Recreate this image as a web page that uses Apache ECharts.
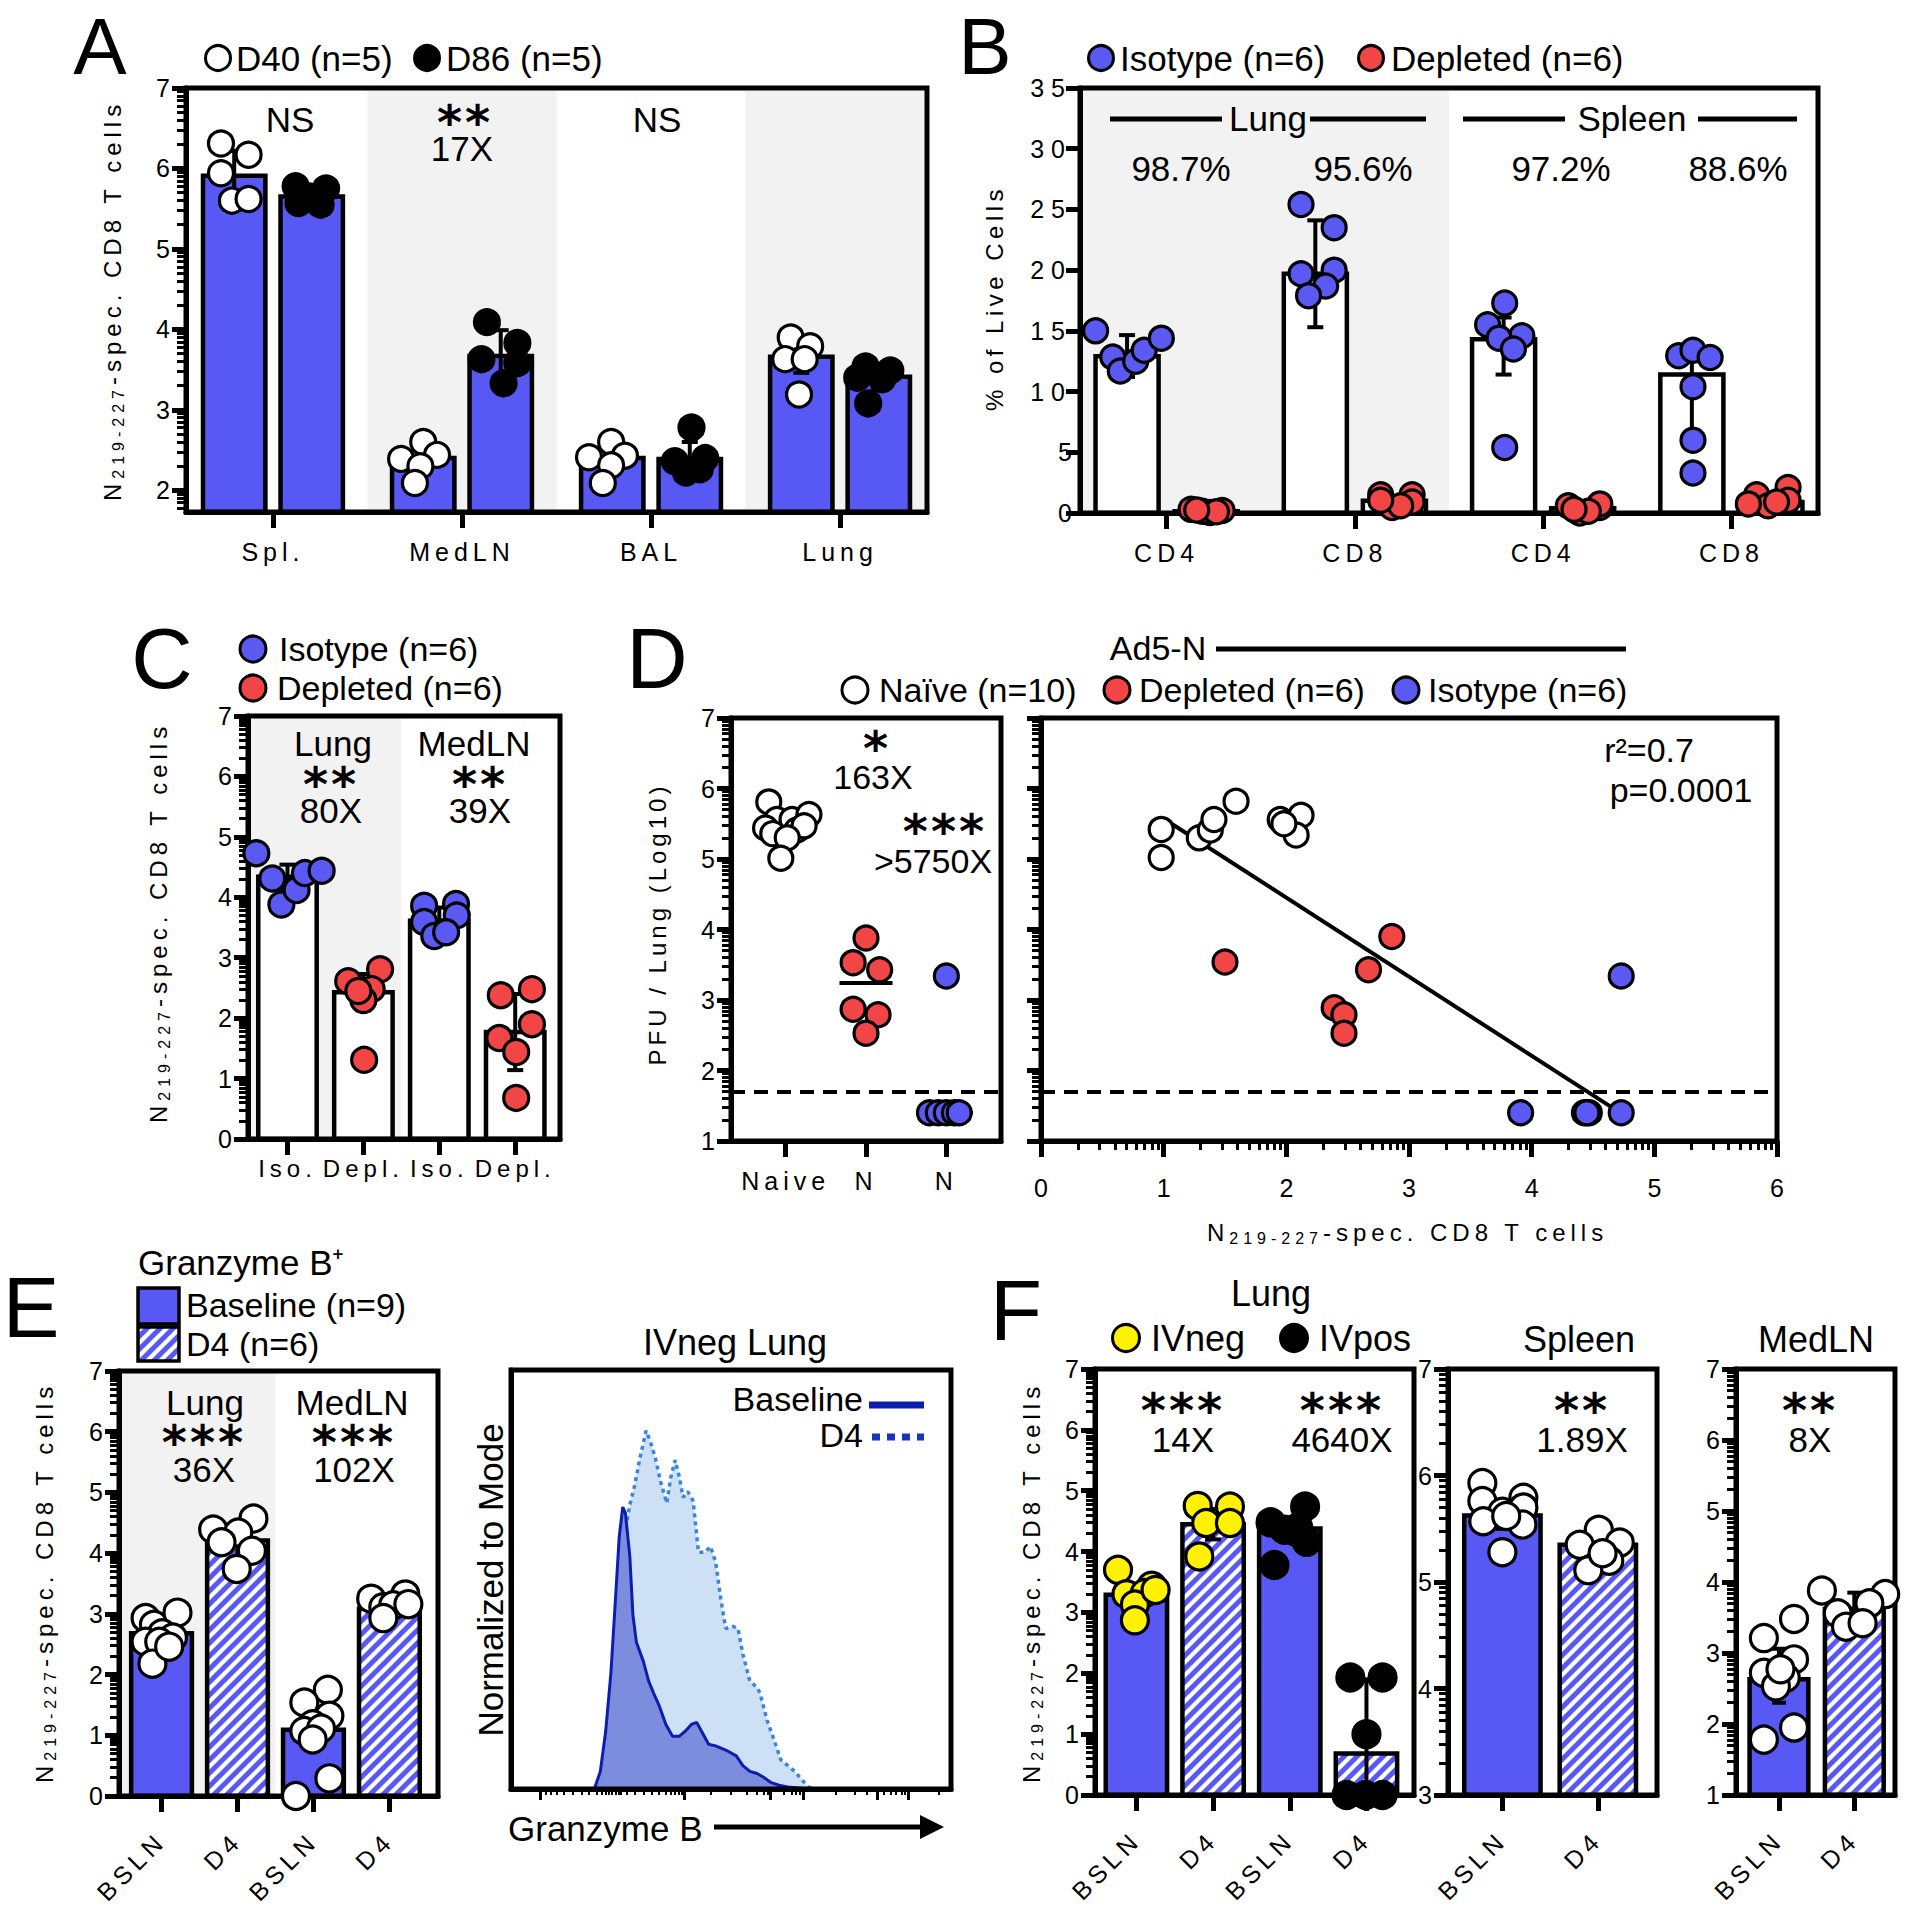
<!DOCTYPE html>
<html><head><meta charset="utf-8">
<script src="https://cdn.jsdelivr.net/npm/echarts@6/dist/echarts.min.js"></script>
<style>html,body{margin:0;padding:0;background:#fff}#c{width:1906px;height:1920px}</style>
</head><body><div id="c"></div>
<script>
// ================= DATA =================
// Panel A
const A_cats = ['Spl.', 'MedLN', 'BAL', 'Lung'];
const A_yTicks = [2, 3, 4, 5, 6, 7];
const A_d40_mean = [5.91, 2.40, 2.40, 3.66];
const A_d40_lo = [5.60, 2.28, 2.28, 3.46];
const A_d40_hi = [6.22, 2.52, 2.52, 3.86];
const A_d86_mean = [5.65, 3.67, 2.39, 3.41];
const A_d86_lo = [5.55, 3.35, 2.18, 3.26];
const A_d86_hi = [5.75, 3.99, 2.60, 3.56];
const A_d40_pts = [[6.31, 6.17, 5.94, 5.60, 5.62], [2.60, 2.39, 2.44, 2.30, 2.09], [2.60, 2.41, 2.43, 2.31, 2.09], [3.90, 3.79, 3.63, 3.63, 3.19]];
const A_d40_dx = [[-.07, .076, -.07, -.012, .076], [0, -.117, .073, -.015, -.044], [-.006, -.123, .067, -.006, -.05], [-.056, .047, -.085, .018, -.012]];
const A_d86_pts = [[5.78, 5.75, 5.65, 5.57, 5.55], [4.09, 3.83, 3.63, 3.58, 3.33], [2.78, 2.36, 2.40, 2.22, 2.26], [3.54, 3.49, 3.40, 3.38, 3.08]];
const A_d86_dx = [[-.085, .076, -.012, -.07, .047], [-.073, .088, -.102, .088, .015], [.009, -.079, .082, -.02, .053], [-.07, .061, -.114, .018, -.056]];

// Panel B
const B_cats = ['CD4', 'CD8', 'CD4', 'CD8'];
const B_yTicks = [0, 5, 10, 15, 20, 25, 30, 35];
const B_iso_mean = [12.9, 19.7, 14.3, 11.4];
const B_iso_lo = [11.2, 15.3, 11.4, 6.3];
const B_iso_hi = [14.65, 24.1, 16.1, 13.2];
const B_dep_mean = [0.15, 1.0, 0.4, 0.9];
const B_dep_lo = [0.05, 0.6, 0.1, 0.5];
const B_dep_hi = [0.25, 1.4, 0.7, 1.4];
const B_iso_pts = [[15.0, 12.85, 11.7, 12.5, 13.4, 14.4], [25.4, 23.5, 19.7, 20.0, 18.7, 17.9], [17.3, 15.5, 14.6, 14.4, 13.5, 5.4], [12.95, 13.4, 12.8, 10.4, 6.0, 3.3]];
const B_iso_dx = [[-.167, -.076, -.036, .046, .091, .182], [-.076, .1, -.076, .1, .055, -.036], [.006, -.085, .097, -.024, .052, .006], [-.07, .006, .097, .006, .006, .006]];
const B_dep_pts = [[0.3, 0.05, 0.2, 0.15, 0.1, 0.25], [1.5, 1.5, 0.45, 0.9, 0.6, 1.05], [0.6, 0.0, 0.45, 0.75, 0.15, 0.3], [1.5, 2.1, 0.6, 1.05, 0.75, 0.9]];
const B_dep_dx = [[-.08, .02, .085, -.02, .055, -.05], [-.073, .094, -.012, .094, .033, -.073], [-.076, -.015, .091, .091, .03, -.046], [-.076, .091, -.015, .091, -.12, .03]];

// Panel C
const C_cats = ['Iso.', 'Depl.', 'Iso.', 'Depl.'];
const C_yTicks = [0, 1, 2, 3, 4, 5, 6, 7];
const C_mean = [4.34, 2.43, 3.61, 1.77];
const C_lo = [4.14, 2.13, 3.39, 1.14];
const C_hi = [4.54, 2.73, 3.83, 2.40];
const C_pts = [[4.73, 4.31, 3.88, 4.12, 4.40, 4.44], [2.61, 2.81, 2.48, 2.30, 2.45, 1.31], [3.86, 3.89, 3.59, 3.70, 3.36, 3.42], [2.38, 2.48, 1.90, 1.67, 1.44, 0.68]];
const C_dx = [[-.41, -.2, -.08, .12, .23, .45], [-.2, .22, .11, 0, -.066, .01], [-.2, .22, -.2, .23, -.066, .09], [-.19, .22, .22, -.21, .013, .013]];

// Panel D (left: PFU per group)
const D_cats = ['Naive', 'N', 'N'];
const D_yTicks = [1, 2, 3, 4, 5, 6, 7];
const D_naive = [5.81, 5.56, 5.56, 5.63, 5.44, 5.36, 5.41, 5.47, 5.30, 5.01];
const D_naive_dx = [-.21, -.11, .08, .29, -.25, -.16, .14, .23, .02, -.06];
const D_dep = [3.88, 3.53, 3.43, 2.87, 2.79, 2.53];
const D_dep_dx = [0, -.16, .17, -.16, .15, 0];
const D_iso = [3.34, 1.40, 1.40, 1.40, 1.40, 1.40];
const D_iso_dx = [0, -.21, -.1, 0, .1, .16];
const D_center = [5.46, 3.24, 1.40];
const D_lod = 1.7;
// Panel D (right: correlation)
const Dr_xTicks = [0, 1, 2, 3, 4, 5, 6];
const Dr_naive_x = [0.98, 0.98, 1.29, 1.38, 1.41, 1.59, 1.95, 2.12, 2.08, 1.98];
const Dr_naive_y = [5.42, 5.02, 5.30, 5.41, 5.56, 5.82, 5.56, 5.62, 5.34, 5.50];
const Dr_dep_x = [1.50, 2.86, 2.67, 2.39, 2.47, 2.47];
const Dr_dep_y = [3.54, 3.90, 3.43, 2.89, 2.79, 2.53];
const Dr_iso_x = [4.73, 3.91, 4.43, 4.47, 4.73, 4.45];
const Dr_iso_y = [3.34, 1.40, 1.40, 1.40, 1.40, 1.40];
const Dr_fit = [[1.02, 5.55], [4.66, 1.47]];

// Panel E
const E_cats = ['BSLN', 'D4', 'BSLN', 'D4'];
const E_mean = [2.68, 4.21, 1.09, 3.09];
const E_lo = [2.43, 3.94, 0.79, 2.94];
const E_hi = [2.93, 4.48, 1.39, 3.24];
const E_pts = [[2.93, 2.82, 3.02, 2.68, 2.54, 2.61, 2.54, 2.18, 2.46], [4.39, 4.57, 4.34, 4.18, 4.04, 3.74], [1.75, 1.54, 1.32, 1.18, 1.07, 1.11, 0.93, 0.29, 0.0], [3.25, 3.32, 3.11, 3.14, 3.16, 2.93]];
const E_dx = [[-.21, -.1, .21, .01, -.21, .15, -.03, -.12, .1], [-.32, .21, .01, -.21, .19, -.01], [.19, -.12, .21, -.01, -.12, .1, -.01, .21, -.23], [-.24, .21, -.08, .05, .25, -.08]];
// Histogram (Granzyme B, normalized to mode)
const HX_base = [18.5, 19.1, 20.3, 21.5, 22.7, 23.8, 24.6, 25.4, 26.0, 27.0, 27.7, 28.5, 30.1, 31.3, 32.4, 33.6, 35.2, 36.7, 38.3, 39.8, 41.0, 42.2, 43.4, 44.9, 46.5, 48.8, 51.2, 52.7, 54.3, 55.9, 57.4, 59.0, 60.9, 62.9, 66.0, 68.0];
const HY_base = [0, 0.5, 4.2, 13.6, 27.6, 46.3, 60.3, 67.3, 65.9, 55.6, 41.6, 35.0, 30.4, 25.7, 22.9, 20.1, 15.4, 12.6, 12.6, 14.0, 15.4, 15.9, 13.6, 10.7, 10.3, 9.3, 7.9, 5.6, 4.2, 3.7, 2.8, 1.6, 0.9, 0.5, 0.2, 0];
const HX_d4 = [19.0, 19.5, 21.1, 22.7, 23.8, 24.6, 25.4, 26.2, 27.0, 28.1, 29.3, 30.7, 31.6, 32.8, 34.0, 35.4, 36.3, 37.3, 38.3, 39.1, 40.2, 41.4, 42.6, 44.1, 45.3, 46.5, 47.7, 48.8, 50.4, 51.6, 52.7, 54.3, 55.9, 56.6, 58.2, 59.8, 61.3, 62.9, 64.5, 66.0, 67.6, 69.0];
const HY_d4 = [0, 0.5, 6.1, 18.2, 32.2, 45.3, 56.5, 63.1, 67.8, 72.4, 79.0, 85.5, 83.2, 79.0, 73.4, 68.2, 74.3, 78.5, 74.3, 69.6, 71.0, 68.7, 56.5, 56.5, 57.9, 54.2, 45.3, 38.3, 38.8, 38.3, 32.2, 25.7, 24.3, 22.9, 16.4, 11.7, 7.0, 5.6, 4.2, 2.3, 0.5, 0];
const H_majorTicks = [6.6, 39.3, 59.0, 66.4, 83.2, 90.2];
const H_minorTicks = [7.8, 9.0, 10.4, 12.1, 14.1, 16.0, 17.6, 19.5, 20.7, 21.5, 22.3, 23.0, 23.8, 24.6, 25.0, 26.2, 28.1, 30.1, 32.0, 33.6, 35.2, 36.3, 37.3, 38.1, 38.7, 45.3, 50.0, 53.5, 55.9, 57.4, 58.4, 62.1, 63.7, 64.8, 65.7, 73.8, 78.1, 80.9, 84.8, 86.3, 87.5, 88.7, 89.5, 97.3];

// Panel F (Lung)
const F_cats = ['BSLN', 'D4', 'BSLN', 'D4'];
const F_mean = [3.29, 4.45, 4.38, 0.68];
const F_lo = [3.14, 4.20, 4.20, 0.0];
const F_hi = [3.44, 4.70, 4.56, 1.90];
const F_pts = [[3.70, 3.44, 3.30, 3.32, 3.13, 2.87, 3.37], [4.75, 4.74, 4.47, 4.47, 3.92], [4.48, 4.74, 4.33, 4.16, 3.78, 4.36, 4.40], [1.93, 1.93, 1.0, 0, 0, 0]];
const F_dx = [[-.24, .2, -.13, .11, -.02, -.02, .25], [-.2, .22, -.09, .22, -.18], [-.25, .2, .07, .22, -.2, -.07, .11], [-.21, .21, 0, -.26, -.01, .21]];
// Panel F (Spleen)
const FS_cats = ['BSLN', 'D4'];
const FS_yTicks = [3, 4, 5, 6, 7];
const FS_mean = [5.625, 5.35];
const FS_lo = [5.50, 5.27];
const FS_hi = [5.75, 5.43];
const FS_pts = [[5.93, 5.76, 5.79, 5.66, 5.70, 5.57, 5.54, 5.28, 5.62], [5.49, 5.35, 5.37, 5.20, 5.11, 5.27]];
const FS_dx = [[-.21, -.21, .22, 0, .22, -.2, .21, 0, .04], [.01, -.19, .23, .12, -.1, .05]];
// Panel F (MedLN)
const FM_cats = ['BSLN', 'D4'];
const FM_mean = [2.63, 3.62];
const FM_lo = [2.30, 3.39];
const FM_hi = [3.06, 3.85];
const FM_pts = [[3.21, 3.48, 2.91, 2.72, 2.65, 2.53, 1.78, 1.95, 2.77], [3.88, 3.83, 3.56, 3.70, 3.37, 3.42]];
const FM_dx = [[-.2, .2, .2, -.2, .09, -.04, -.2, .2, .02], [-.43, .41, -.22, .2, -.11, .11]];

// ================= STYLE =================
const FONT = "'Liberation Sans', Arial, Helvetica, sans-serif";
const STARFONT = "'DejaVu Sans', 'Liberation Sans', sans-serif";
const BLUE = '#5858f5', PBLUE = '#5a5af2', RED = '#f24646', YEL = '#fff200', GRAYBG = '#f2f2f2';
const SPACED = {};
function sp(t, s, size) { SPACED[t + '|' + size] = s; return t; }
const measCtx = document.createElement('canvas').getContext('2d');
function tw(t, size, s) { measCtx.font = size + 'px ' + FONT; return measCtx.measureText(t).width + t.length * s; }

function makeHatch() {
  const s = 13, c = document.createElement('canvas'); c.width = s; c.height = s;
  const g = c.getContext('2d'); g.fillStyle = BLUE; g.fillRect(0, 0, s, s);
  g.strokeStyle = '#fff'; g.lineWidth = 4.2; g.beginPath();
  for (const k of [-1, 0, 1]) { g.moveTo(k * s - s, 2 * s); g.lineTo(k * s + 2 * s, -s); }
  g.stroke(); return c;
}
const HATCH = { image: makeHatch(), repeat: 'repeat' };

const grids = [], xAxes = [], yAxes = [], series = [], graphics = [];
function logMinors(lo, hi) { const r = []; for (let n = Math.floor(lo); n < hi; n++) for (let k = 2; k <= 9; k++) { const v = n + Math.log10(k); if (v > lo + 1e-6 && v < hi - 1e-6) r.push(v); } return r; }
function addGrid(left, top, width, height) {
  grids.push({ left, top, width, height, show: true, borderColor: '#000', borderWidth: 5, backgroundColor: 'transparent', z: 5, containLabel: false, outerBoundsMode: 'none' });
  return grids.length - 1;
}
function addX(g, o) {
  const idx = xAxes.length;
  xAxes.push({ gridIndex: g, type: 'value', min: o.min, max: o.max, position: 'bottom', z: 5,
    axisLine: { show: true, onZero: false, lineStyle: { color: '#000', width: 5 } },
    axisTick: { show: true, customValues: o.ticks, length: o.tickLen || 16, inside: false, lineStyle: { color: '#000', width: o.tickW || 5 } },
    axisLabel: { show: !o.noLabel, customValues: o.ticks, formatter: o.cats ? (v => o.cats[Math.round(v)]) : (v => String(v)), fontSize: o.fs || 25, fontFamily: FONT, color: '#000', margin: o.margin || 20, rotate: o.rotate || 0 },
    splitLine: { show: false } });
  if (o.cats) o.cats.forEach(t => sp(t, S, o.fs || 25));
  if (o.minor) xAxes.push({ gridIndex: g, type: 'value', min: o.min, max: o.max, position: 'bottom', z: 5, axisLine: { show: false, onZero: false }, axisTick: { show: true, customValues: o.minor, length: o.minorLen || 9, lineStyle: { color: '#000', width: o.minorW || 3 } }, axisLabel: { show: false }, splitLine: { show: false } });
  return idx;
}
function addY(g, o) {
  const idx = yAxes.length;
  yAxes.push({ gridIndex: g, type: 'value', min: o.min, max: o.max, position: 'left', z: 5,
    axisLine: { show: true, onZero: false, lineStyle: { color: '#000', width: 5 } },
    axisTick: { show: !o.noTicks, customValues: o.ticks, length: 14, lineStyle: { color: '#000', width: 5 } },
    axisLabel: { show: !o.noLabel, customValues: o.ticks, fontSize: 25, fontFamily: FONT, color: '#000', margin: o.margin || 16 },
    splitLine: { show: false } });
  if (o.minor) yAxes.push({ gridIndex: g, type: 'value', min: o.min, max: o.max, position: 'left', z: 5, axisLine: { show: false, onZero: false }, axisTick: { show: true, customValues: o.minor, length: 9, lineStyle: { color: '#000', width: 3 } }, axisLabel: { show: false }, splitLine: { show: false } });
  return idx;
}
function bands(xi, yi, list, ymin, ymax) {
  return { type: 'custom', xAxisIndex: xi, yAxisIndex: yi, silent: true, z: 1, clip: false, data: list,
    renderItem: (p, api) => { const a = api.coord([api.value(0), ymax]), b = api.coord([api.value(1), ymin]);
      return { type: 'rect', shape: { x: a[0], y: a[1], width: b[0] - a[0], height: b[1] - a[1] }, style: { fill: GRAYBG } }; } };
}
function bars(xi, yi, xs, vals, w, ymin, fill) {
  return { type: 'custom', xAxisIndex: xi, yAxisIndex: yi, silent: true, z: 2, clip: false,
    data: xs.map((x, i) => [x, vals[i], i]),
    renderItem: (p, api) => { const x = api.value(0), v = api.value(1), i = api.value(2);
      const a = api.coord([x - w / 2, v]), b = api.coord([x + w / 2, ymin]);
      const f = Array.isArray(fill) ? fill[i] : fill;
      return { type: 'rect', shape: { x: a[0], y: a[1], width: b[0] - a[0], height: b[1] - a[1] }, style: { fill: f, stroke: '#000', lineWidth: 4.5 } }; } };
}
function errs(xi, yi, xs, lo, hi, cap) {
  return { type: 'custom', xAxisIndex: xi, yAxisIndex: yi, silent: true, z: 3, clip: false,
    data: xs.map((x, i) => [x, lo[i], hi[i]]),
    renderItem: (p, api) => { const x = api.value(0); const t = api.coord([x, api.value(2)]), b = api.coord([x, api.value(1)]);
      const st = { stroke: '#000', lineWidth: 4 };
      return { type: 'group', children: [
        { type: 'line', shape: { x1: t[0], y1: t[1], x2: b[0], y2: b[1] }, style: st },
        { type: 'line', shape: { x1: t[0] - cap / 2, y1: t[1], x2: t[0] + cap / 2, y2: t[1] }, style: st },
        { type: 'line', shape: { x1: b[0] - cap / 2, y1: b[1], x2: b[0] + cap / 2, y2: b[1] }, style: st }] }; } };
}
function hlines(xi, yi, xs, vals, w) {
  return { type: 'custom', xAxisIndex: xi, yAxisIndex: yi, silent: true, z: 3, clip: false,
    data: xs.map((x, i) => [x, vals[i]]),
    renderItem: (p, api) => { const a = api.coord([api.value(0) - w / 2, api.value(1)]), b = api.coord([api.value(0) + w / 2, api.value(1)]);
      return { type: 'line', shape: { x1: a[0], y1: a[1], x2: b[0], y2: b[1] }, style: { stroke: '#000', lineWidth: 4 } }; } };
}
function pts(xi, yi, data, color, size) {
  return { type: 'scatter', xAxisIndex: xi, yAxisIndex: yi, data, symbol: 'circle', symbolSize: size, silent: true, z: 7, clip: false,
    itemStyle: { color, borderColor: '#000', borderWidth: 3.2, opacity: 1 } };
}
function jit(xs, p, dx) { const out = []; p.forEach((arr, i) => arr.forEach((v, j) => out.push([xs[i] + dx[i][j], v]))); return out; }
const idx = n => Array.from({ length: n }, (_, i) => i);

// graphic helpers
function T(x, y, text, size, o = {}) {
  graphics.push({ type: 'text', x, y, rotation: o.rot || 0, z: 100, silent: true,
    style: { text, fontSize: size, fontFamily: o.ff || FONT, fontWeight: o.fw || 'normal', fill: o.color || '#000', textFill: o.color || '#000',
      align: o.align || 'center', textAlign: o.align || 'center', verticalAlign: o.va || 'middle', textVerticalAlign: o.va || 'middle' } });
}
function STAR(x, y, text) { T(x, y + 10, sp(text, 3, 48), 48, { fw: 'bold', ff: STARFONT }); }
function circ(cx, cy, r, fill) { graphics.push({ type: 'circle', z: 100, silent: true, shape: { cx, cy, r }, style: { fill, stroke: '#000', lineWidth: 3 } }); }
function ln(x1, y1, x2, y2, w, color, dash) { graphics.push({ type: 'line', z: 100, silent: true, shape: { x1, y1, x2, y2 }, style: { stroke: color || '#000', lineWidth: w, lineDash: dash || null } }); }
function rect(x, y, w, h, fill) { graphics.push({ type: 'rect', z: 100, silent: true, shape: { x, y, width: w, height: h }, style: { fill, stroke: '#000', lineWidth: 3.5 } }); }
const S = 5;
// spaced title built of pieces: [text, fontSize, offset below baseline]
function spacedTitle(cx, cy, rot, parts, s) {
  const ws = parts.map(p => tw(p[0], p[1], s));
  const W = ws.reduce((a, b) => a + b, 0);
  let u = -W / 2;
  const c = Math.cos(rot), sn = Math.sin(rot);
  parts.forEach((p, i) => {
    const dy = p[2];
    T(cx + u * c + dy * sn, cy - u * sn + dy * c, sp(p[0], s, p[1]), p[1], { rot, align: 'left' });
    u += ws[i];
  });
}
function cd8Title(x, y, rot) { spacedTitle(x, y, rot, [['N', 24, 0], ['219-227', 16, 6], ['-spec. CD8 T cells', 24, 0]], S); }
['10', '15', '20', '25', '30', '35'].forEach(t => sp(t, 7, 25));

// ================= PANEL A =================
{
  const g = addGrid(186, 88, 741, 424), ymin = 1.73, ymax = 7;
  const x = addX(g, { min: -0.46, max: 3.46, ticks: idx(4), cats: A_cats, margin: 27 });
  const y = addY(g, { min: ymin, max: ymax, ticks: A_yTicks, minor: logMinors(ymin, ymax) });
  series.push(bands(x, y, [[0.5, 1.5], [2.5, 3.46]], ymin, ymax));
  const xa = idx(4).map(i => i - 0.205), xb = idx(4).map(i => i + 0.205);
  series.push(bars(x, y, xa, A_d40_mean, 0.33, ymin, BLUE), bars(x, y, xb, A_d86_mean, 0.33, ymin, BLUE));
  series.push(errs(x, y, xa, A_d40_lo, A_d40_hi, 16), errs(x, y, xb, A_d86_lo, A_d86_hi, 16));
  series.push(pts(x, y, jit(xa, A_d40_pts, A_d40_dx), '#fff', 25), pts(x, y, jit(xb, A_d86_pts, A_d86_dx), '#000', 25));
  T(100, 46, 'A', 80);
  circ(218, 58, 12.5, '#fff'); T(236, 58, 'D40 (n=5)', 35, { align: 'left' });
  circ(427, 58, 12.5, '#000'); T(446, 58, 'D86 (n=5)', 35, { align: 'left' });
  T(290, 119, 'NS', 35); STAR(465, 112, '**'); T(462, 148, '17X', 35); T(657, 119, 'NS', 35);
  cd8Title(112, 300, Math.PI / 2);
}
// ================= PANEL B =================
{
  const g = addGrid(1080, 88, 738, 425), ymin = 0, ymax = 35;
  const x = addX(g, { min: -0.46, max: 3.46, ticks: idx(4), cats: B_cats, margin: 27 });
  const y = addY(g, { min: ymin, max: ymax, ticks: B_yTicks, margin: 8 });
  series.push(bands(x, y, [[-0.46, 1.5]], ymin, ymax));
  const xa = idx(4).map(i => i - 0.21), xb = idx(4).map(i => i + 0.21);
  series.push(bars(x, y, xa, B_iso_mean, 0.335, ymin, '#fff'), bars(x, y, xb, B_dep_mean, 0.335, ymin, '#fff'));
  series.push(errs(x, y, xa, B_iso_lo, B_iso_hi, 16), errs(x, y, xb, B_dep_lo, B_dep_hi, 12));
  series.push(pts(x, y, jit(xa, B_iso_pts, B_iso_dx), PBLUE, 24), pts(x, y, jit(xb, B_dep_pts, B_dep_dx), RED, 24));
  T(985, 46, 'B', 80);
  circ(1101, 58, 12.5, PBLUE); T(1120, 58, 'Isotype (n=6)', 35, { align: 'left' });
  circ(1371, 58, 12.5, RED); T(1391, 58, 'Depleted (n=6)', 35, { align: 'left' });
  T(1268, 118, 'Lung', 35); ln(1110, 119, 1222, 119, 5); ln(1310, 119, 1426, 119, 5);
  T(1632, 118, 'Spleen', 35); ln(1463, 119, 1565, 119, 5); ln(1698, 119, 1797, 119, 5);
  T(1181, 168, '98.7%', 35); T(1363, 168, '95.6%', 35); T(1561, 168, '97.2%', 35); T(1738, 168, '88.6%', 35);
  T(994, 298, sp('% of Live Cells', 4.5, 24), 24, { rot: Math.PI / 2 });
}
// ================= PANEL C =================
{
  const g = addGrid(248, 716, 312, 423), ymin = 0, ymax = 7;
  const x = addX(g, { min: -0.52, max: 3.59, ticks: idx(4), cats: C_cats, margin: 17, fs: 24 });
  const y = addY(g, { min: ymin, max: ymax, ticks: C_yTicks, minor: logMinors(ymin, ymax) });
  series.push(bands(x, y, [[-0.52, 1.5]], ymin, ymax));
  const xs = idx(4);
  series.push(bars(x, y, xs, C_mean, 0.77, ymin, '#fff'));
  series.push(errs(x, y, xs, C_lo, C_hi, 16));
  const all = jit(xs, C_pts, C_dx);
  series.push(pts(x, y, all.filter(p => Math.round(p[0]) % 2 === 0), PBLUE, 25), pts(x, y, all.filter(p => Math.round(p[0]) % 2 === 1), RED, 25));
  T(162, 658, 'C', 85);
  circ(253, 649, 13, PBLUE); T(279, 649, 'Isotype (n=6)', 34, { align: 'left' });
  circ(253, 688, 13, RED); T(277, 688, 'Depleted (n=6)', 34, { align: 'left' });
  T(333, 743, 'Lung', 35); STAR(331, 774, '**'); T(331, 810, '80X', 35);
  T(474, 743, 'MedLN', 35); STAR(480, 774, '**'); T(480, 810, '39X', 35);
  cd8Title(158, 922, Math.PI / 2);
}
// ================= PANEL D =================
{
  const g = addGrid(731, 718, 270, 423), ymin = 1, ymax = 7;
  const x = addX(g, { min: -0.68, max: 2.68, ticks: idx(3), cats: D_cats, margin: 27 });
  const y = addY(g, { min: ymin, max: ymax, ticks: D_yTicks, minor: logMinors(ymin, ymax) });
  const s1 = pts(x, y, D_naive.map((v, i) => [0 + D_naive_dx[i], v]), '#fff', 24);
  s1.markLine = { silent: true, symbol: ['none', 'none'], label: { show: false }, lineStyle: { color: '#000', width: 4, type: [14, 9] }, data: [{ yAxis: D_lod }] };
  series.push(hlines(x, y, idx(3), D_center, 0.66));
  series.push(s1, pts(x, y, D_dep.map((v, i) => [1 + D_dep_dx[i], v]), RED, 24), pts(x, y, D_iso.map((v, i) => [2 + D_iso_dx[i], v]), PBLUE, 24));
  // right scatter
  const g2 = addGrid(1041, 718, 736, 423);
  const x2 = addX(g2, { min: 0, max: 6, ticks: Dr_xTicks, margin: 34, minor: logMinors(0, 6), tickLen: 16 });
  const y2 = addY(g2, { min: ymin, max: ymax, ticks: D_yTicks, minor: logMinors(ymin, ymax), noLabel: true });
  const fit = { type: 'line', xAxisIndex: x2, yAxisIndex: y2, data: Dr_fit, symbol: 'none', silent: true, z: 3, lineStyle: { color: '#000', width: 4 },
    markLine: { silent: true, symbol: ['none', 'none'], label: { show: false }, lineStyle: { color: '#000', width: 4, type: [14, 9] }, data: [{ yAxis: D_lod }] } };
  series.push(fit,
    pts(x2, y2, Dr_naive_x.map((v, i) => [v, Dr_naive_y[i]]), '#fff', 24),
    pts(x2, y2, Dr_dep_x.map((v, i) => [v, Dr_dep_y[i]]), RED, 24),
    pts(x2, y2, Dr_iso_x.map((v, i) => [v, Dr_iso_y[i]]), PBLUE, 24));
  T(657, 658, 'D', 85);
  T(1158, 648, 'Ad5-N', 34); ln(1216, 649, 1626, 649, 5);
  circ(855, 690, 13, '#fff'); T(879, 690, 'Naïve (n=10)', 34, { align: 'left' });
  circ(1117, 690, 13, RED); T(1139, 690, 'Depleted (n=6)', 34, { align: 'left' });
  circ(1406, 690, 13, PBLUE); T(1428, 690, 'Isotype (n=6)', 34, { align: 'left' });
  STAR(877, 738, '*'); T(873, 777, '163X', 34);
  STAR(945, 821, '***'); T(933, 861, '>5750X', 34);
  T(1649, 750, 'r²=0.7', 34); T(1681, 790, 'p=0.0001', 34);
  T(657, 924, sp('PFU / Lung (Log10)', 4, 24), 24, { rot: Math.PI / 2 });
  cd8Title(1408, 1232, 0);
}
// ================= PANEL E =================
{
  const g = addGrid(119, 1371, 319, 425), ymin = 0, ymax = 7;
  const x = addX(g, { min: -0.56, max: 3.64, ticks: idx(4), cats: E_cats, margin: 40, rotate: 45 });
  const y = addY(g, { min: ymin, max: ymax, ticks: C_yTicks, minor: logMinors(ymin, ymax) });
  series.push(bands(x, y, [[-0.56, 1.5]], ymin, ymax));
  const xs = idx(4);
  series.push(bars(x, y, xs, E_mean, 0.8, ymin, [BLUE, HATCH, BLUE, HATCH]));
  series.push(errs(x, y, xs, E_lo, E_hi, 16));
  series.push(pts(x, y, jit(xs, E_pts, E_dx), '#fff', 27));
  T(31, 1307, 'E', 85);
  T(138, 1262, 'Granzyme B⁺', 35, { align: 'left' });
  rect(138, 1288, 41, 36, BLUE); T(186, 1305, 'Baseline (n=9)', 34, { align: 'left' });
  rect(138, 1327, 41, 34, HATCH); T(186, 1344, 'D4 (n=6)', 34, { align: 'left' });
  T(205, 1402, 'Lung', 35); STAR(204, 1432, '***'); T(204, 1469, '36X', 35);
  T(352, 1402, 'MedLN', 35); STAR(354, 1432, '***'); T(354, 1469, '102X', 35);
  cd8Title(44, 1582, Math.PI / 2);
  // histogram
  const gh = addGrid(511, 1370, 440, 419);
  const xh = addX(gh, { min: 0, max: 100, ticks: H_majorTicks, noLabel: true, tickLen: 11, tickW: 3, minor: H_minorTicks, minorLen: 6, minorW: 2 });
  yAxes.push({ gridIndex: gh, type: 'value', min: 0, max: 100, position: 'left', axisLine: { show: true, onZero: false, lineStyle: { color: '#000', width: 5 } }, axisTick: { show: false }, axisLabel: { show: false }, splitLine: { show: false } });
  const yh = yAxes.length - 1;
  series.push({ type: 'line', xAxisIndex: xh, yAxisIndex: yh, data: HX_d4.map((v, i) => [v, HY_d4[i]]), symbol: 'none', silent: true, z: 2,
    lineStyle: { color: '#3a86dc', width: 3.5, type: [4, 4] }, areaStyle: { color: '#cde0f6', opacity: 1 } });
  series.push({ type: 'line', xAxisIndex: xh, yAxisIndex: yh, data: HX_base.map((v, i) => [v, HY_base[i]]), symbol: 'none', silent: true, z: 3,
    lineStyle: { color: '#0c1eae', width: 3 }, areaStyle: { color: '#7b8ddc', opacity: 1 } });
  T(735, 1342, 'IVneg Lung', 36);
  T(863, 1399, 'Baseline', 34, { align: 'right' }); ln(869, 1405, 924, 1405, 7, '#0c1eae');
  T(863, 1435, 'D4', 34, { align: 'right' }); ln(872, 1437, 924, 1437, 7, '#1436c0', [8, 7]);
  T(490, 1580, 'Normalized to Mode', 35, { rot: Math.PI / 2 });
  T(508, 1828, 'Granzyme B', 35, { align: 'left' });
  ln(714, 1827, 924, 1827, 5);
  graphics.push({ type: 'polygon', z: 100, silent: true, shape: { points: [[920, 1815], [944, 1827], [920, 1839]] }, style: { fill: '#000' } });
}
// ================= PANEL F =================
{
  const g = addGrid(1095, 1369, 319, 426), ymin = 0, ymax = 7;
  const x = addX(g, { min: -0.54, max: 3.62, ticks: idx(4), cats: F_cats, margin: 40, rotate: 45 });
  const y = addY(g, { min: ymin, max: ymax, ticks: C_yTicks, minor: logMinors(ymin, ymax) });
  const xs = idx(4);
  series.push(bars(x, y, xs, F_mean, 0.8, ymin, [BLUE, HATCH, BLUE, HATCH]));
  series.push(errs(x, y, xs, F_lo, F_hi, 16));
  const all = jit(xs, F_pts, F_dx);
  series.push(pts(x, y, all.filter(p => p[0] < 1.5), YEL, 27), pts(x, y, all.filter(p => p[0] >= 1.5), '#000', 27));
  T(1016, 1310, 'F', 85);
  T(1271, 1293, 'Lung', 36);
  circ(1126, 1338, 13.5, YEL); T(1151, 1338, 'IVneg', 36, { align: 'left' });
  circ(1294, 1338, 13.5, '#000'); T(1319, 1338, 'IVpos', 36, { align: 'left' });
  STAR(1183, 1400, '***'); T(1183, 1439, '14X', 35);
  STAR(1342, 1400, '***'); T(1342, 1439, '4640X', 35);
  cd8Title(1031, 1582, Math.PI / 2);
  // spleen
  const gs = addGrid(1448, 1369, 209, 426);
  const xsA = addX(gs, { min: -0.57, max: 1.62, ticks: idx(2), cats: FS_cats, margin: 40, rotate: 45 });
  const ysA = addY(gs, { min: 3, max: 7, ticks: FS_yTicks, minor: logMinors(3, 7) });
  series.push(bars(xsA, ysA, idx(2), FS_mean, 0.8, 3, [BLUE, HATCH]), errs(xsA, ysA, idx(2), FS_lo, FS_hi, 14), pts(xsA, ysA, jit(idx(2), FS_pts, FS_dx), '#fff', 27));
  T(1579, 1339, 'Spleen', 36);
  STAR(1582, 1400, '**'); T(1582, 1439, '1.89X', 35);
  // medln
  const gm = addGrid(1736, 1369, 159, 426);
  const xm = addX(gm, { min: -0.57, max: 1.54, ticks: idx(2), cats: FM_cats, margin: 40, rotate: 45 });
  const ym = addY(gm, { min: 1, max: 7, ticks: D_yTicks, minor: logMinors(1, 7) });
  series.push(bars(xm, ym, idx(2), FM_mean, 0.78, 1, [BLUE, HATCH]), errs(xm, ym, idx(2), FM_lo, FM_hi, 14), pts(xm, ym, jit(idx(2), FM_pts, FM_dx), '#fff', 27));
  T(1816, 1339, 'MedLN', 36);
  STAR(1810, 1400, '**'); T(1810, 1439, '8X', 35);
}

const chart = echarts.init(document.getElementById('c'), null, { renderer: 'svg', width: 1906, height: 1920 });
chart.setOption({ animation: false, backgroundColor: '#fff', textStyle: { fontFamily: FONT }, grid: grids, xAxis: xAxes, yAxis: yAxes, series, graphic: { elements: graphics } });
function applySpacing() {
  document.querySelectorAll('#c svg text').forEach(el => {
    const t = el.textContent; const fs = Math.round(parseFloat(getComputedStyle(el).fontSize));
    const k = t + '|' + fs;
    if (SPACED[k] !== undefined) el.setAttribute('letter-spacing', SPACED[k]);
  });
}
chart.on('finished', applySpacing);
applySpacing(); setTimeout(applySpacing, 50); setTimeout(applySpacing, 300);
</script></body></html>
